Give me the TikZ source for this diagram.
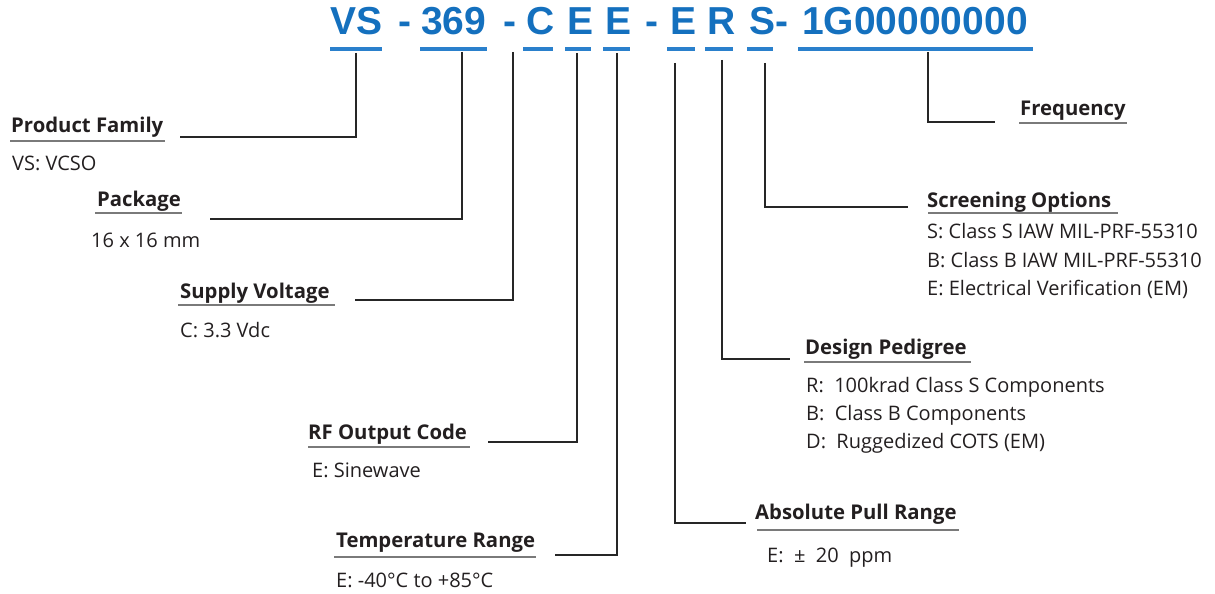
\documentclass[tikz,border=0pt]{standalone}
\usepackage{fontspec}
\setmainfont{Open Sans}
\newfontfamily\codefont{Liberation Sans}
\definecolor{codeblue}{HTML}{1470BE}
\definecolor{ulblue}{HTML}{2A80CC}
\definecolor{txt}{HTML}{231F20}
\definecolor{linec}{HTML}{262626}
\definecolor{hgray}{HTML}{7A7A7A}
\tikzset{
  code/.style={anchor=base west, inner sep=0pt, font=\codefont\bfseries\fontsize{39}{39}\selectfont, text=codeblue},
  head/.style={anchor=base west, inner sep=0pt, font=\bfseries\fontsize{20.3}{20.3}\selectfont, text=txt},
  body/.style={anchor=base west, inner sep=0pt, font=\fontsize{20}{20}\selectfont, text=txt},
  conn/.style={draw=linec, line width=2.2pt},
  uline/.style={draw=ulblue, line width=4pt},
  hline/.style={draw=hgray, line width=2pt},
}
\begin{document}
\begin{tikzpicture}[x=1pt,y=-1pt]
\useasboundingbox (0,0) rectangle (1215,594);
% code parts
\node[code] (cvs) at (330,35) {VS};
\node[code] (d1) at (398,35) {-};
\node[code] (c369) at (421,35) {369};
\node[code] (d2) at (503,35) {-};
\node[code] (cc) at (526,35) {C};
\node[code] (ce1) at (567,35) {E};
\node[code] (ce2) at (605,35) {E};
\node[code] (d3) at (645,35) {-};
\node[code] (ce3) at (670,35) {E};
\node[code] (cr) at (707,35) {R};
\node[code] (cs) at (749,35) {S-};
\node[code] (cf) at (802,35) {1G00000000};
% blue underlines
\coordinate (u1a) at (330,49.5); \coordinate (u1b) at (382,49.5);
\coordinate (u2a) at (420,49.5); \coordinate (u2b) at (487,49.5);
\coordinate (u3a) at (523,49.5); \coordinate (u3b) at (553,49.5);
\coordinate (u4a) at (565,49.5); \coordinate (u4b) at (591,49.5);
\coordinate (u5a) at (603,49.5); \coordinate (u5b) at (630,49.5);
\coordinate (u6a) at (667,49.5); \coordinate (u6b) at (695,49.5);
\coordinate (u7a) at (705,49.5); \coordinate (u7b) at (733,49.5);
\coordinate (u8a) at (747,49.5); \coordinate (u8b) at (773,49.5);
\coordinate (u9a) at (798,49.5); \coordinate (u9b) at (1033,49.5);
\foreach \i in {1,...,9} {\draw[uline] (u\i a) -- (u\i b);}
% labels
\node[head] (pf) at (11,132) {Product Family};
\node[body] (pfv) at (12,170) {VS: VCSO};
\node[head] (pk) at (97,206) {Package};
\node[body] (pkv) at (91,247) {16 x 16 mm};
\node[head] (sv) at (180,298) {Supply Voltage};
\node[body] (svv) at (180,337) {C: 3.3 Vdc};
\node[head] (rf) at (308,439) {RF Output Code};
\node[body] (rfv) at (312,477) {E: Sinewave};
\node[head] (tr) at (336,547) {Temperature Range};
\node[body] (trv) at (336,587) {E: -40°C to +85°C};
\node[head] (pr) at (755,519) {Absolute Pull Range};
\node[body] (prv) at (767,562) {E:\ \ ±\ \ 20\ \ ppm};
\node[head] (dp) at (805,354) {Design Pedigree};
\node[body] (dp1) at (806,392) {R:\ \ 100krad Class S Components};
\node[body] (dp2) at (806,420) {B:\ \ Class B Components};
\node[body] (dp3) at (806,448) {D:\ \ Ruggedized COTS (EM)};
\node[head] (so) at (927,207) {Screening Options};
\node[body] (so1) at (927,238) {S: Class S IAW MIL-PRF-55310};
\node[body] (so2) at (927,267) {B: Class B IAW MIL-PRF-55310};
\node[body] (so3) at (927,295) {E: Electrical Verification (EM)};
\node[head] (fq) at (1020,115) {Frequency};
% heading underlines
\draw[hline] (10,141) -- (165,141);
\draw[hline] (95,213) -- (182,213);
\draw[hline] (178,305) -- (335,305);
\draw[hline] (308,447) -- (470,447);
\draw[hline] (334,557) -- (536,557);
\draw[hline] (757,530) -- (959,530);
\draw[hline] (804,362) -- (971,362);
\draw[hline] (928,213) -- (1118,213);
\draw[hline] (1019,123) -- (1127,123);
% connectors
\coordinate (s1) at (356,53);  \coordinate (e1) at (180,137);
\coordinate (s2) at (462,52);  \coordinate (e2) at (210,219);
\coordinate (s3) at (513,52);  \coordinate (e3) at (355,300);
\coordinate (s4) at (577,53);  \coordinate (e4) at (488,442);
\coordinate (s5) at (617,53);  \coordinate (e5) at (555,555);
\coordinate (s6) at (675,63);  \coordinate (e6) at (746,523);
\coordinate (s7) at (722,60);  \coordinate (e7) at (790,359);
\coordinate (s8) at (765,63);  \coordinate (e8) at (908,207);
\coordinate (s9) at (928,52);  \coordinate (e9) at (995,122);
\foreach \i in {1,...,9} {\draw[conn] (s\i) |- (e\i);}
\end{tikzpicture}
\end{document}
